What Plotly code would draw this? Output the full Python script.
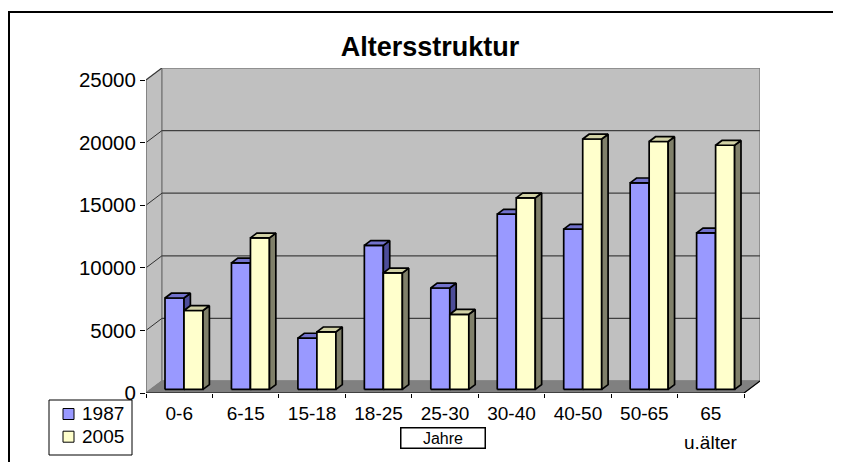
import plotly.graph_objects as go

# ---------------- data ----------------
categories = ["0-6", "6-15", "15-18", "18-25", "25-30", "30-40", "40-50", "50-65", "65"]
last_label_line2 = "u.älter"
series_names = ["1987", "2005"]
values_1987 = [7300, 10100, 4100, 11500, 8100, 14000, 12800, 16500, 12500]
values_2005 = [6300, 12100, 4600, 9300, 6000, 15300, 20000, 19800, 19500]
y_ticks = [0, 5000, 10000, 15000, 20000, 25000]
title_text = "Altersstruktur"
axis_title = "Jahre"

# ---------------- style ----------------
FONT = "Liberation Sans, Arial, sans-serif"
DX = 0.24      # depth offset in category units
DY = 960       # depth offset in value units
F0, F1 = 0.3, 0.7   # bar front/back depth fractions
BW = 0.286     # bar width (category units)
YMAX = y_ticks[-1]
N = len(categories)

colors = {
    "1987": dict(front="#9999ff", top="#7272cc", side="#4d4d99"),
    "2005": dict(front="#ffffcc", top="#d2d2a6", side="#80806a"),
}

fig = go.Figure()

def poly(xs, ys, fill, line_color, lw=1.0):
    fig.add_trace(go.Scatter(x=xs, y=ys, mode="lines", fill="toself", fillcolor=fill,
                             line=dict(color=line_color, width=lw), hoverinfo="skip",
                             showlegend=False))

def line(xs, ys, color, lw=1.0):
    fig.add_trace(go.Scatter(x=xs, y=ys, mode="lines", line=dict(color=color, width=lw),
                             hoverinfo="skip", showlegend=False))

# walls
poly([0, 0, DX, DX, 0], [0, YMAX, YMAX + DY, DY, 0], "#c0c0c0", "#808080", 1.5)   # left wall
poly([DX, N + DX, N + DX, DX, DX], [DY, DY, YMAX + DY, YMAX + DY, DY], "#c0c0c0", "#808080", 1.5)  # back wall
poly([0, N, N + DX, DX, 0], [0, 0, DY, DY, 0], "#808080", "#808080", 1.0)  # floor

# gridlines on back wall + diagonals on left wall
for v in y_ticks[1:-1]:
    line([DX, N + DX], [v + DY, v + DY], "#404040", 1.2)
for v in y_ticks[1:]:
    line([0, DX], [v, v + DY], "#303030", 1.0)
line([0, 0], [0, YMAX], "#808080", 1.5)

# bars (3D faces computed from values)
def bar_faces(vals, first):
    fx, fy, sx, sy, tx, ty = [], [], [], [], [], []
    ddx, ddy = (F1 - F0) * DX, (F1 - F0) * DY
    for i, v in enumerate(vals):
        x0 = i + 0.5 + (-BW if first else 0) + F0 * DX
        b = F0 * DY
        t = v + F0 * DY
        fx += [x0, x0 + BW, x0 + BW, x0, x0, None]
        fy += [b, b, t, t, b, None]
        sx += [x0 + BW, x0 + BW + ddx, x0 + BW + ddx, x0 + BW, x0 + BW, None]
        sy += [b, b + ddy, t + ddy, t, b, None]
        tx += [x0, x0 + BW, x0 + BW + ddx, x0 + ddx, x0, None]
        ty += [t, t, t + ddy, t + ddy, t, None]
    return (fx, fy), (sx, sy), (tx, ty)

for name, vals, first in [("1987", values_1987, True), ("2005", values_2005, False)]:
    front, side, top = bar_faces(vals, first)
    c = colors[name]
    poly(*front, c["front"], "black", 1.7)
    poly(*side, c["side"], "black", 1.7)
    poly(*top, c["top"], "black", 1.7)

# front floor edge
line([0, N, N + DX], [0, 0, DY], "black", 1.2)

# layout geometry (page pixels; the page body adds an 8px offset)
OFF = 8
W_PX, H_PX = 841, 462
PL, PR, PT, PB = 146, 760, 68, 393      # plot area on page
PW, PH = PR - PL, PB - PT
def px(x): return (x - PL) / PW
def py(y): return (PB - y) / PH

fig.update_layout(
    width=W_PX, height=H_PX,
    margin=dict(l=PL - OFF, r=W_PX - (PR - OFF), t=PT - OFF, b=H_PX - (PB - OFF), autoexpand=False),
    paper_bgcolor="white", plot_bgcolor="white",
    font=dict(family=FONT, color="black", size=19),
    title=dict(text="<b>%s</b>" % title_text, x=(430 - OFF) / W_PX, xanchor="center",
               y=1 - (47 - OFF) / H_PX, yanchor="middle", font=dict(size=27, family=FONT)),
    showlegend=False,
    xaxis=dict(range=[0, N + DX], showgrid=False, zeroline=False, showline=False,
               tickmode="array", tickvals=[i + 0.5 for i in range(N)], ticktext=categories,
               ticks="", tickfont=dict(size=19), ticklabelstandoff=7,
               minor=dict(tickmode="array", tickvals=list(range(N + 1)), ticks="outside",
                          ticklen=4, tickcolor="black", tickwidth=1, showgrid=False),
               fixedrange=True),
    yaxis=dict(range=[0, YMAX + DY], showgrid=False, zeroline=False, showline=False,
               tickmode="array", tickvals=y_ticks, ticktext=[str(v) for v in y_ticks],
               ticks="outside", ticklen=5, tickcolor="black", tickwidth=1,
               tickfont=dict(size=20.5), fixedrange=True),
)

# legend (box, swatches, labels)
fig.add_shape(type="rect", xref="paper", yref="paper", x0=px(49), x1=px(132), y0=py(455), y1=py(400),
              line=dict(color="black", width=1), fillcolor="white", layer="above")
for k, name in enumerate(series_names):
    yc = 414 + k * 22.7
    fig.add_shape(type="rect", xref="paper", yref="paper", x0=px(63), x1=px(74),
                  y0=py(yc + 5.5), y1=py(yc - 5.5),
                  line=dict(color="black", width=1), fillcolor=colors[name]["front"], layer="above")
    fig.add_annotation(text=name, xref="paper", yref="paper", x=px(80), y=py(yc),
                       xanchor="left", yanchor="middle", showarrow=False, font=dict(size=19))

fig.add_annotation(text=last_label_line2, xref="x", yref="paper", x=N - 0.5, y=py(442),
                   yanchor="middle", showarrow=False, font=dict(size=19))
fig.add_annotation(text=axis_title, xref="paper", yref="paper", x=px(443), y=py(437.5),
                   xanchor="center", yanchor="middle", showarrow=False, font=dict(size=16),
                   bordercolor="black", borderwidth=1.5, borderpad=1, width=81, height=17,
                   bgcolor="white")

# chart frame
fig.add_shape(type="rect", xref="paper", yref="paper", x0=px(9), y0=py(480), x1=px(860), y1=py(12),
              line=dict(color="black", width=2), layer="above")

fig.write_html("out.html")
